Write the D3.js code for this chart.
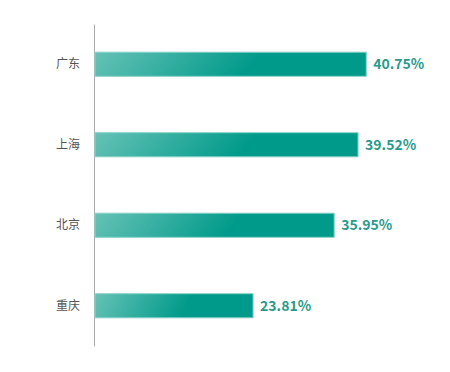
<!DOCTYPE html>
<html>
<head>
<meta charset="utf-8">
<script src="https://cdn.jsdelivr.net/npm/d3@7"></script>
<style>
  body { margin: 0; background: #fff; }
  svg { display: block; font-family: "Noto Sans CJK SC", "Noto Sans", sans-serif; }
</style>
</head>
<body>
<div id="chart"></div>
<script>
// data
var regions = ["广东", "上海", "北京", "重庆"];
var shares = [40.75, 39.52, 35.95, 23.81];

var svgWidth = 450;
var svgHeight = 372;

var margin = { top: 24, right: 28, bottom: 26, left: 94 };
var width = svgWidth - margin.left - margin.right;
var height = svgHeight - margin.top - margin.bottom;

var svg = d3.select("#chart")
  .append("svg")
  .attr("width", svgWidth)
  .attr("height", svgHeight);

// light left -> teal, slightly slanted
var grad = svg.append("defs").append("linearGradient")
  .attr("id", "barGrad")
  .attr("x1", "0").attr("y1", "0")
  .attr("x2", "0.62").attr("y2", "0.05");
grad.append("stop").attr("offset", "0%").attr("stop-color", "#66c2b6");
grad.append("stop").attr("offset", "100%").attr("stop-color", "#009a8a");

var chartGroup = svg.append("g")
  .attr("transform", `translate(${margin.left}, ${margin.top})`);

var data = regions.map((r, i) => ({ region: r, value: shares[i] }));

var xScale = d3.scaleLinear()
  .domain([0, 43.4])
  .range([0, 290]);

var yScale = d3.scaleBand()
  .domain(regions)
  .range([0, height])
  .paddingInner(0.7)
  .paddingOuter(0.35);

// y axis: just the line and labels
var yAxis = d3.axisLeft(yScale).tickSize(0).tickPadding(14);
var yAxisGroup = chartGroup.append("g").call(yAxis);
yAxisGroup.select(".domain")
  .attr("stroke", "#aaa")
  .attr("stroke-width", 1);
yAxisGroup.selectAll("text")
  .attr("font-size", "12px")
  .attr("fill", "#555")
  .attr("font-family", "'Noto Sans CJK SC', sans-serif");

// bars
chartGroup.selectAll("rect.bar")
  .data(data)
  .enter()
  .append("rect")
  .attr("class", "bar")
  .attr("x", 1)
  .attr("y", d => yScale(d.region))
  .attr("width", d => xScale(d.value) - 1)
  .attr("height", yScale.bandwidth())
  .attr("fill", "url(#barGrad)")
  .attr("stroke", "#8fd3ca")
  .attr("stroke-width", 1);

// value labels
chartGroup.selectAll("text.val")
  .data(data)
  .enter()
  .append("text")
  .attr("class", "val")
  .attr("x", d => xScale(d.value) + 7)
  .attr("y", d => yScale(d.region) + yScale.bandwidth() / 2)
  .attr("dy", "0.35em")
  .attr("font-size", "14px")
  .attr("font-weight", "bold")
  .attr("fill", "#2a9a8c")
  .text(d => d.value.toFixed(2) + "%");
</script>
</body>
</html>
